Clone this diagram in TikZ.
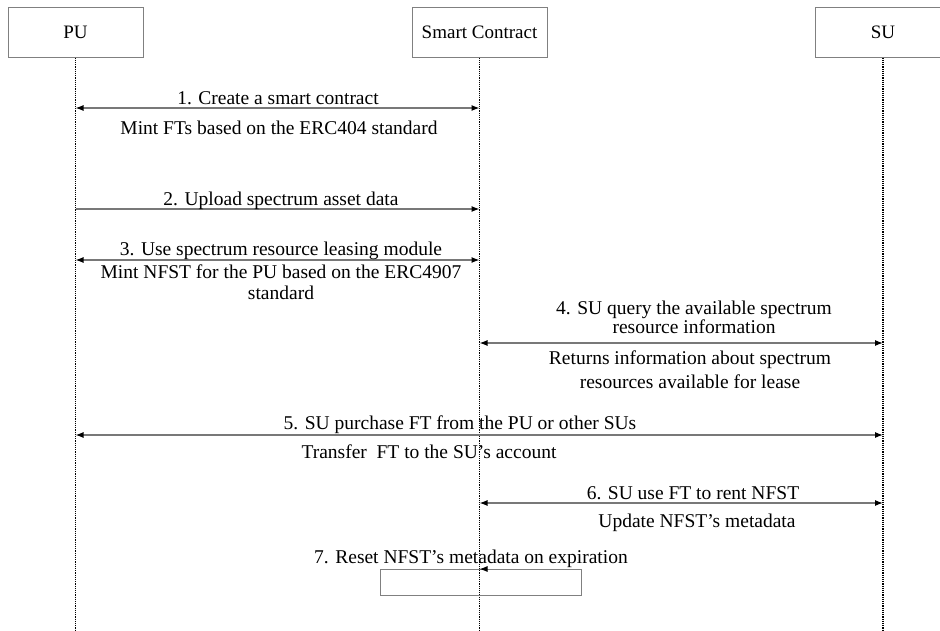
\documentclass[tikz,border=0pt]{standalone}
\usepackage{fontspec}
\setmainfont{Liberation Serif}
\usetikzlibrary{arrows.meta,calc}
\definecolor{boxgray}{RGB}{128,128,128}
\definecolor{msggray}{RGB}{120,120,120}

\begin{document}
\begin{tikzpicture}[x=1pt,y=-1pt,
  font=\fontsize{19.5}{22}\selectfont,
  actor/.style={draw=boxgray, line width=1pt, minimum width=135pt, minimum height=50pt, inner sep=0pt, font=\fontsize{19}{22}\selectfont},
  lifeline/.style={densely dotted, line width=1.2pt},
  msgboth/.style={draw=msggray, line width=1.2pt, {Latex[length=8pt,width=6pt,black]}-{Latex[length=8pt,width=6pt,black]}},
  msgone/.style={draw=msggray, line width=1.2pt, -{Latex[length=8pt,width=6pt,black]}},
  lbl/.style={inner sep=0pt, anchor=base}]
\clip (0,0) rectangle (940,630);

% Participants
\node[actor] (pu) at (75.5,32) {PU};
\node[actor] (sc) at (479.5,32) {Smart Contract};
\node[actor] (su) at (883,32) {SU};

% Lifelines
\coordinate (puend) at (pu |- 0,630);
\coordinate (scend) at (sc |- 0,630);
\coordinate (suend) at (su |- 0,630);
\draw[lifeline] (pu.south) -- (puend);
\draw[lifeline] (sc.south) -- (scend);
\draw[lifeline] (su.south) -- (suend);

% 1. Create a smart contract
\coordinate (pu1) at (pu |- 0,108);
\coordinate (sc1) at (sc |- 0,108);
\draw[msgboth] (pu1) -- (sc1);
\node[lbl] (m1) at (278,104) {1. Create a smart contract};
\node[lbl] (m1r) at (279,134) {Mint FTs based on the ERC404 standard};

% 2. Upload spectrum asset data
\coordinate (pu2) at (pu |- 0,209);
\coordinate (sc2) at (sc |- 0,209);
\draw[msgone] (pu2) -- (sc2);
\node[lbl] (m2) at (281,205) {2. Upload spectrum asset data};

% 3. Leasing module
\coordinate (pu3) at (pu |- 0,260);
\coordinate (sc3) at (sc |- 0,260);
\draw[msgboth] (pu3) -- (sc3);
\node[lbl] (m3) at (281,255) {3. Use spectrum resource leasing module};
\node[lbl] (m3r) at (281,278) {Mint NFST for the PU based on the ERC4907};
\node[lbl] (m3s) at (281,299) {standard};

% 4. Query spectrum
\coordinate (sc4) at (sc |- 0,343);
\coordinate (su4) at (su |- 0,343);
\draw[msgboth] (sc4) -- (su4);
\node[lbl] (m4) at (694,314) {4. SU query the available spectrum};
\node[lbl] (m4b) at (694,333) {resource information};
\node[lbl] (m4r) at (690,364) {Returns information about spectrum};
\node[lbl] (m4s) at (690,388) {resources available for lease};

% 5. Purchase FT
\coordinate (pu5) at (pu |- 0,435);
\coordinate (su5) at (su |- 0,435);
\draw[msgboth] (pu5) -- (su5);
\node[lbl] (m5) at (460,429) {5. SU purchase FT from the PU or other SUs};
\node[lbl] (m5r) at (429,458) {Transfer\ \ FT to the SU’s account};

% 6. Rent NFST
\coordinate (sc6) at (sc |- 0,503);
\coordinate (su6) at (su |- 0,503);
\draw[msgboth] (sc6) -- (su6);
\node[lbl] (m6) at (693,499) {6. SU use FT to rent NFST};
\node[lbl] (m6r) at (697,527) {Update NFST’s metadata};

% 7. Reset on expiration
\node[lbl] (m7) at (471,563) {7. Reset NFST’s metadata on expiration};
\draw[draw=boxgray, line width=1pt] (380,569) rectangle (581,595);
\coordinate (sc7) at (sc |- 0,569);
\coordinate (self7) at (581,569);
\draw[draw=boxgray, line width=1pt, -{Latex[length=8pt,width=6pt,black]}] (self7) -- (sc7);
\end{tikzpicture}
\end{document}
